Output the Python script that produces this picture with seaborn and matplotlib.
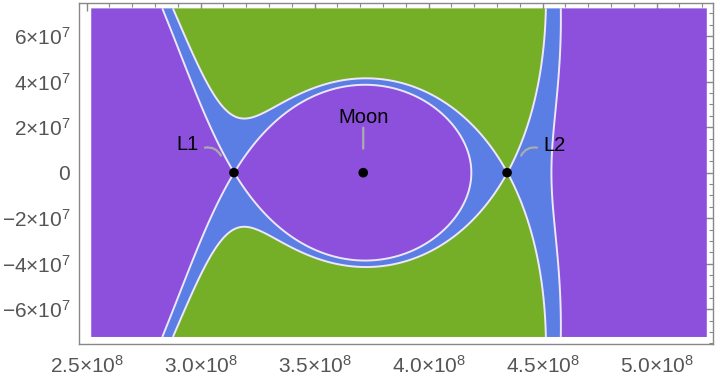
import numpy as np
import matplotlib
matplotlib.use('Agg')
import matplotlib.pyplot as plt
import seaborn as sns
from matplotlib.ticker import MultipleLocator, FuncFormatter
from matplotlib.transforms import offset_copy

# ---- data / parameters ----
G = 6.674e-11
M_earth = 5.972e24
M_moon = 7.342e22
d = 3.76e8                       # Earth-Moon separation used in the plot
x_range = [2.52e8, 5.22e8]       # plotted region
y_range = [-7.22e7, 7.22e7]
point_labels = ['L1', 'Moon', 'L2']
point_x = [3.146e8, 3.713e8, 4.344e8]
point_y = [0.0, 0.0, 0.0]
region_colors = ['#8C50DC', '#5B7EE5', '#75AF27']
line_color = '#EEE6FA'

sns.set_style('white')
plt.rcParams['font.family'] = ['Liberation Sans', 'DejaVu Sans']
plt.rcParams['mathtext.fontset'] = 'custom'
plt.rcParams['mathtext.rm'] = 'Liberation Sans'

mu = M_moon / (M_earth + M_moon)
xE, xM = -mu * d, (1 - mu) * d
omega2 = G * (M_earth + M_moon) / d ** 3


def phi(x, y):
    r1 = np.hypot(x - xE, y)
    r2 = np.hypot(x - xM, y)
    return -G * M_earth / r1 - G * M_moon / r2 - 0.5 * omega2 * (x ** 2 + y ** 2)


def saddle_level(x0):
    xs = np.linspace(x0 - 1.5e7, x0 + 1.5e7, 200001)
    return phi(xs, 0.0).max()


lev1 = saddle_level(point_x[0])
lev2 = saddle_level(point_x[2])

xs = np.linspace(x_range[0], x_range[1], 1400)
ys = np.linspace(y_range[0], y_range[1], 800)
X, Y = np.meshgrid(xs, ys)
P = phi(X, Y)

fig = plt.figure(figsize=(7.2, 3.78), dpi=100)
ax = fig.add_axes([0.1093, 0.0899, 0.9899 - 0.1093, 0.9929 - 0.0899])

ax.contourf(X, Y, P, levels=[P.min() - 1, lev1, lev2, P.max() + 1],
            colors=region_colors, antialiased=True)
ax.contour(X, Y, P, levels=[lev1, lev2], colors=line_color, linewidths=1.4,
           linestyles='solid')

sns.scatterplot(x=point_x, y=point_y, color='black', s=48, edgecolor='none',
                ax=ax, zorder=5, legend=False)

# labels with callout lines (offsets in pixels relative to each point)
label_offsets = {'L1': (-46, 28), 'Moon': (0, 55), 'L2': (47, 27)}
line_offsets = {'L1': ((-13, 17), (-29, 25), -0.35),
                'Moon': ((0, 24), (0, 45), 0.0),
                'L2': ((14, 17), (30, 25), 0.35)}
for lab, px, py in zip(point_labels, point_x, point_y):
    dx, dy = label_offsets[lab]
    ax.annotate(lab, xy=(px, py), xytext=(dx, dy), textcoords='offset pixels',
                ha='center', va='center', fontsize=14.5, color='black', zorder=6)
    (a, b), (c, e), rad = line_offsets[lab]
    t1 = offset_copy(ax.transData, fig=fig, x=a, y=b, units='dots')
    t2 = offset_copy(ax.transData, fig=fig, x=c, y=e, units='dots')
    ax.annotate('', xy=(px, py), xycoords=t1, xytext=(px, py), textcoords=t2,
                arrowprops=dict(arrowstyle='-', color='#ABABAB', lw=1.6,
                                shrinkA=0, shrinkB=0,
                                connectionstyle=f'arc3,rad={rad}'), zorder=6)

ax.set_xlim(2.465e8, 5.246e8)
ax.set_ylim(-7.53e7, 7.47e7)

ax.xaxis.set_major_locator(MultipleLocator(0.5e8))
ax.xaxis.set_minor_locator(MultipleLocator(0.1e8))
ax.yaxis.set_major_locator(MultipleLocator(2e7))
ax.yaxis.set_minor_locator(MultipleLocator(0.5e7))


def fmt_x(v, pos):
    return r'$\mathregular{%.1f{\times}10^{8}}$' % (v / 1e8)


def fmt_y(v, pos):
    k = int(round(v / 1e7))
    if k == 0:
        return '0'
    return r'$\mathregular{%d{\times}10^{7}}$' % k


ax.xaxis.set_major_formatter(FuncFormatter(fmt_x))
ax.yaxis.set_major_formatter(FuncFormatter(fmt_y))

ax.tick_params(which='both', direction='in', top=True, right=True,
               color='#888888', labelcolor='#555555', labelsize=15)
ax.tick_params(which='major', length=6, width=1)
ax.tick_params(which='minor', length=3, width=0.8)
ax.tick_params(axis='x', which='major', pad=8)
ax.tick_params(axis='y', which='major', pad=6)
for s in ax.spines.values():
    s.set_color('#888888')
    s.set_linewidth(1)
ax.set_xlabel('')
ax.set_ylabel('')

fig.savefig('out.png', dpi=100, facecolor='white')
